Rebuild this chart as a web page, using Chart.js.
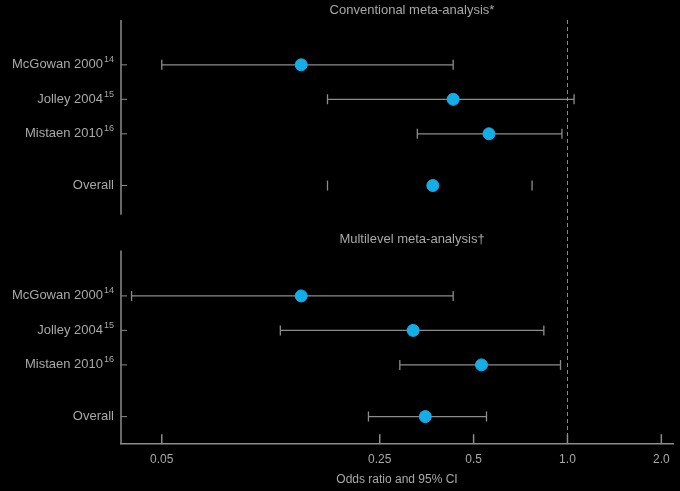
<!DOCTYPE html>
<html><head><meta charset="utf-8">
<script src="https://cdn.jsdelivr.net/npm/chart.js@4"></script>
<style>html,body{margin:0;background:#000}canvas{display:block}</style>
</head><body>
<div style="width:680px;height:491px"><canvas id="c"></canvas></div>
<script>
// Forest plot values (odds ratios)
var studies = ['McGowan 2000', 'Jolley 2004', 'Mistaen 2010', 'Overall'];
var refs = ['14', '15', '16', ''];
var panelTitles = ['Conventional meta-analysis*', 'Multilevel meta-analysis\u2020'];
var rowsTop = [1, 2, 3, 4.5];
var rowsBottom = [7.7, 8.7, 9.7, 11.2];
var convOR = [0.14, 0.43, 0.56, 0.37];
var convLo = [0.05, 0.17, 0.33, 0.17];
var convHi = [0.43, 1.05, 0.96, 0.77];
var multiOR = [0.14, 0.32, 0.53, 0.35];
var multiLo = [0.040, 0.12, 0.29, 0.23];
var multiHi = [0.43, 0.84, 0.95, 0.55];
var xTicks = [0.05, 0.25, 0.5, 1.0, 2.0];
var tickText = ['0.05', '0.25', '0.5', '1.0', '2.0'];

var TXT = '#a8a8a8', BAR = '#8c8c8c', DOT = '#13aee8';
var FONT = '"Liberation Sans", Arial, sans-serif';

function pts(or, rows, lo, hi) {
  return or.map(function (v, i) { return { x: v, y: rows[i], lo: lo[i], hi: hi[i] }; });
}

var forest = {
  id: 'forest',
  beforeDatasetsDraw: function (chart) {
    var ctx = chart.ctx, x = chart.scales.x, y = chart.scales.y;
    var a = chart.chartArea;
    ctx.save();
    // null line at OR = 1
    ctx.strokeStyle = '#2aa8e0'; ctx.lineWidth = 1; ctx.setLineDash([4, 3]);
    var x1 = Math.round(x.getPixelForValue(1)) + 0.5;
    ctx.beginPath(); ctx.moveTo(x1, a.top); ctx.lineTo(x1, a.bottom); ctx.stroke();
    ctx.setLineDash([]);
    // left axis segments
    ctx.strokeStyle = BAR; ctx.lineWidth = 1.5;
    [[-0.3, 5.35], [6.38, 12]].forEach(function (s) {
      ctx.beginPath(); ctx.moveTo(a.left, y.getPixelForValue(s[0]));
      ctx.lineTo(a.left, y.getPixelForValue(s[1])); ctx.stroke();
    });
    // inward x ticks
    xTicks.forEach(function (t) {
      var px = x.getPixelForValue(t);
      ctx.beginPath(); ctx.moveTo(px, a.bottom); ctx.lineTo(px, a.bottom - 10); ctx.stroke();
    });
    // row labels, row ticks
    ctx.fillStyle = TXT; ctx.textBaseline = 'middle';
    rowsTop.concat(rowsBottom).forEach(function (r, k) {
      var i = k % 4, py = y.getPixelForValue(r);
      ctx.strokeStyle = BAR; ctx.lineWidth = 1;
      ctx.beginPath(); ctx.moveTo(a.left, py); ctx.lineTo(a.left + 6, py); ctx.stroke();
      var sx = 114;
      if (refs[i]) {
        ctx.font = '9px ' + FONT; ctx.textAlign = 'right';
        ctx.fillText(refs[i], sx, py - 5);
        sx -= ctx.measureText(refs[i]).width + 1;
      }
      ctx.font = '13px ' + FONT; ctx.textAlign = 'right';
      ctx.fillText(studies[i], sx, py);
    });
    // panel titles
    ctx.textAlign = 'center';
    ctx.fillText(panelTitles[0], 412, 10);
    ctx.fillText(panelTitles[1], 412, y.getPixelForValue(6.05));
    // confidence intervals
    chart.data.datasets.forEach(function (ds, di) {
      ds.data.forEach(function (p, i) {
        var py = y.getPixelForValue(p.y);
        var pl = x.getPixelForValue(p.lo), ph = x.getPixelForValue(p.hi);
        ctx.strokeStyle = BAR; ctx.lineWidth = 1.3;
        ctx.beginPath();
        if (!(di === 0 && i === 3)) { ctx.moveTo(pl, py); ctx.lineTo(ph, py); }
        ctx.moveTo(pl, py - 5); ctx.lineTo(pl, py + 5);
        ctx.moveTo(ph, py - 5); ctx.lineTo(ph, py + 5);
        ctx.stroke();
      });
    });
    ctx.restore();
  }
};

new Chart(document.getElementById('c'), {
  type: 'scatter',
  data: {
    datasets: [
      { data: pts(convOR, rowsTop, convLo, convHi), backgroundColor: DOT, borderColor: DOT, pointRadius: 6 },
      { data: pts(multiOR, rowsBottom, multiLo, multiHi), backgroundColor: DOT, borderColor: DOT, pointRadius: 6 }
    ]
  },
  plugins: [forest],
  options: {
    responsive: true, maintainAspectRatio: false, animation: false,
    layout: { padding: { left: 121, top: 20, right: 0, bottom: 0 } },
    plugins: { legend: { display: false }, tooltip: { enabled: false } },
    scales: {
      x: {
        type: 'logarithmic', min: 0.037, max: 2.18,
        afterBuildTicks: function (s) { s.ticks = xTicks.map(function (v) { return { value: v }; }); },
        ticks: { color: TXT, font: { size: 12, family: FONT }, autoSkip: false, maxRotation: 0, padding: 0,
          callback: function (v) { return tickText[xTicks.indexOf(v)]; } },
        grid: { display: false },
        border: { display: true, color: BAR, width: 1.5 },
        title: { display: true, text: 'Odds ratio and 95% CI', color: TXT, font: { size: 12, family: FONT }, padding: { top: 6, bottom: 4 } }
      },
      y: { type: 'linear', reverse: true, min: -0.3, max: 12, display: false }
    }
  }
});
</script>
</body></html>
